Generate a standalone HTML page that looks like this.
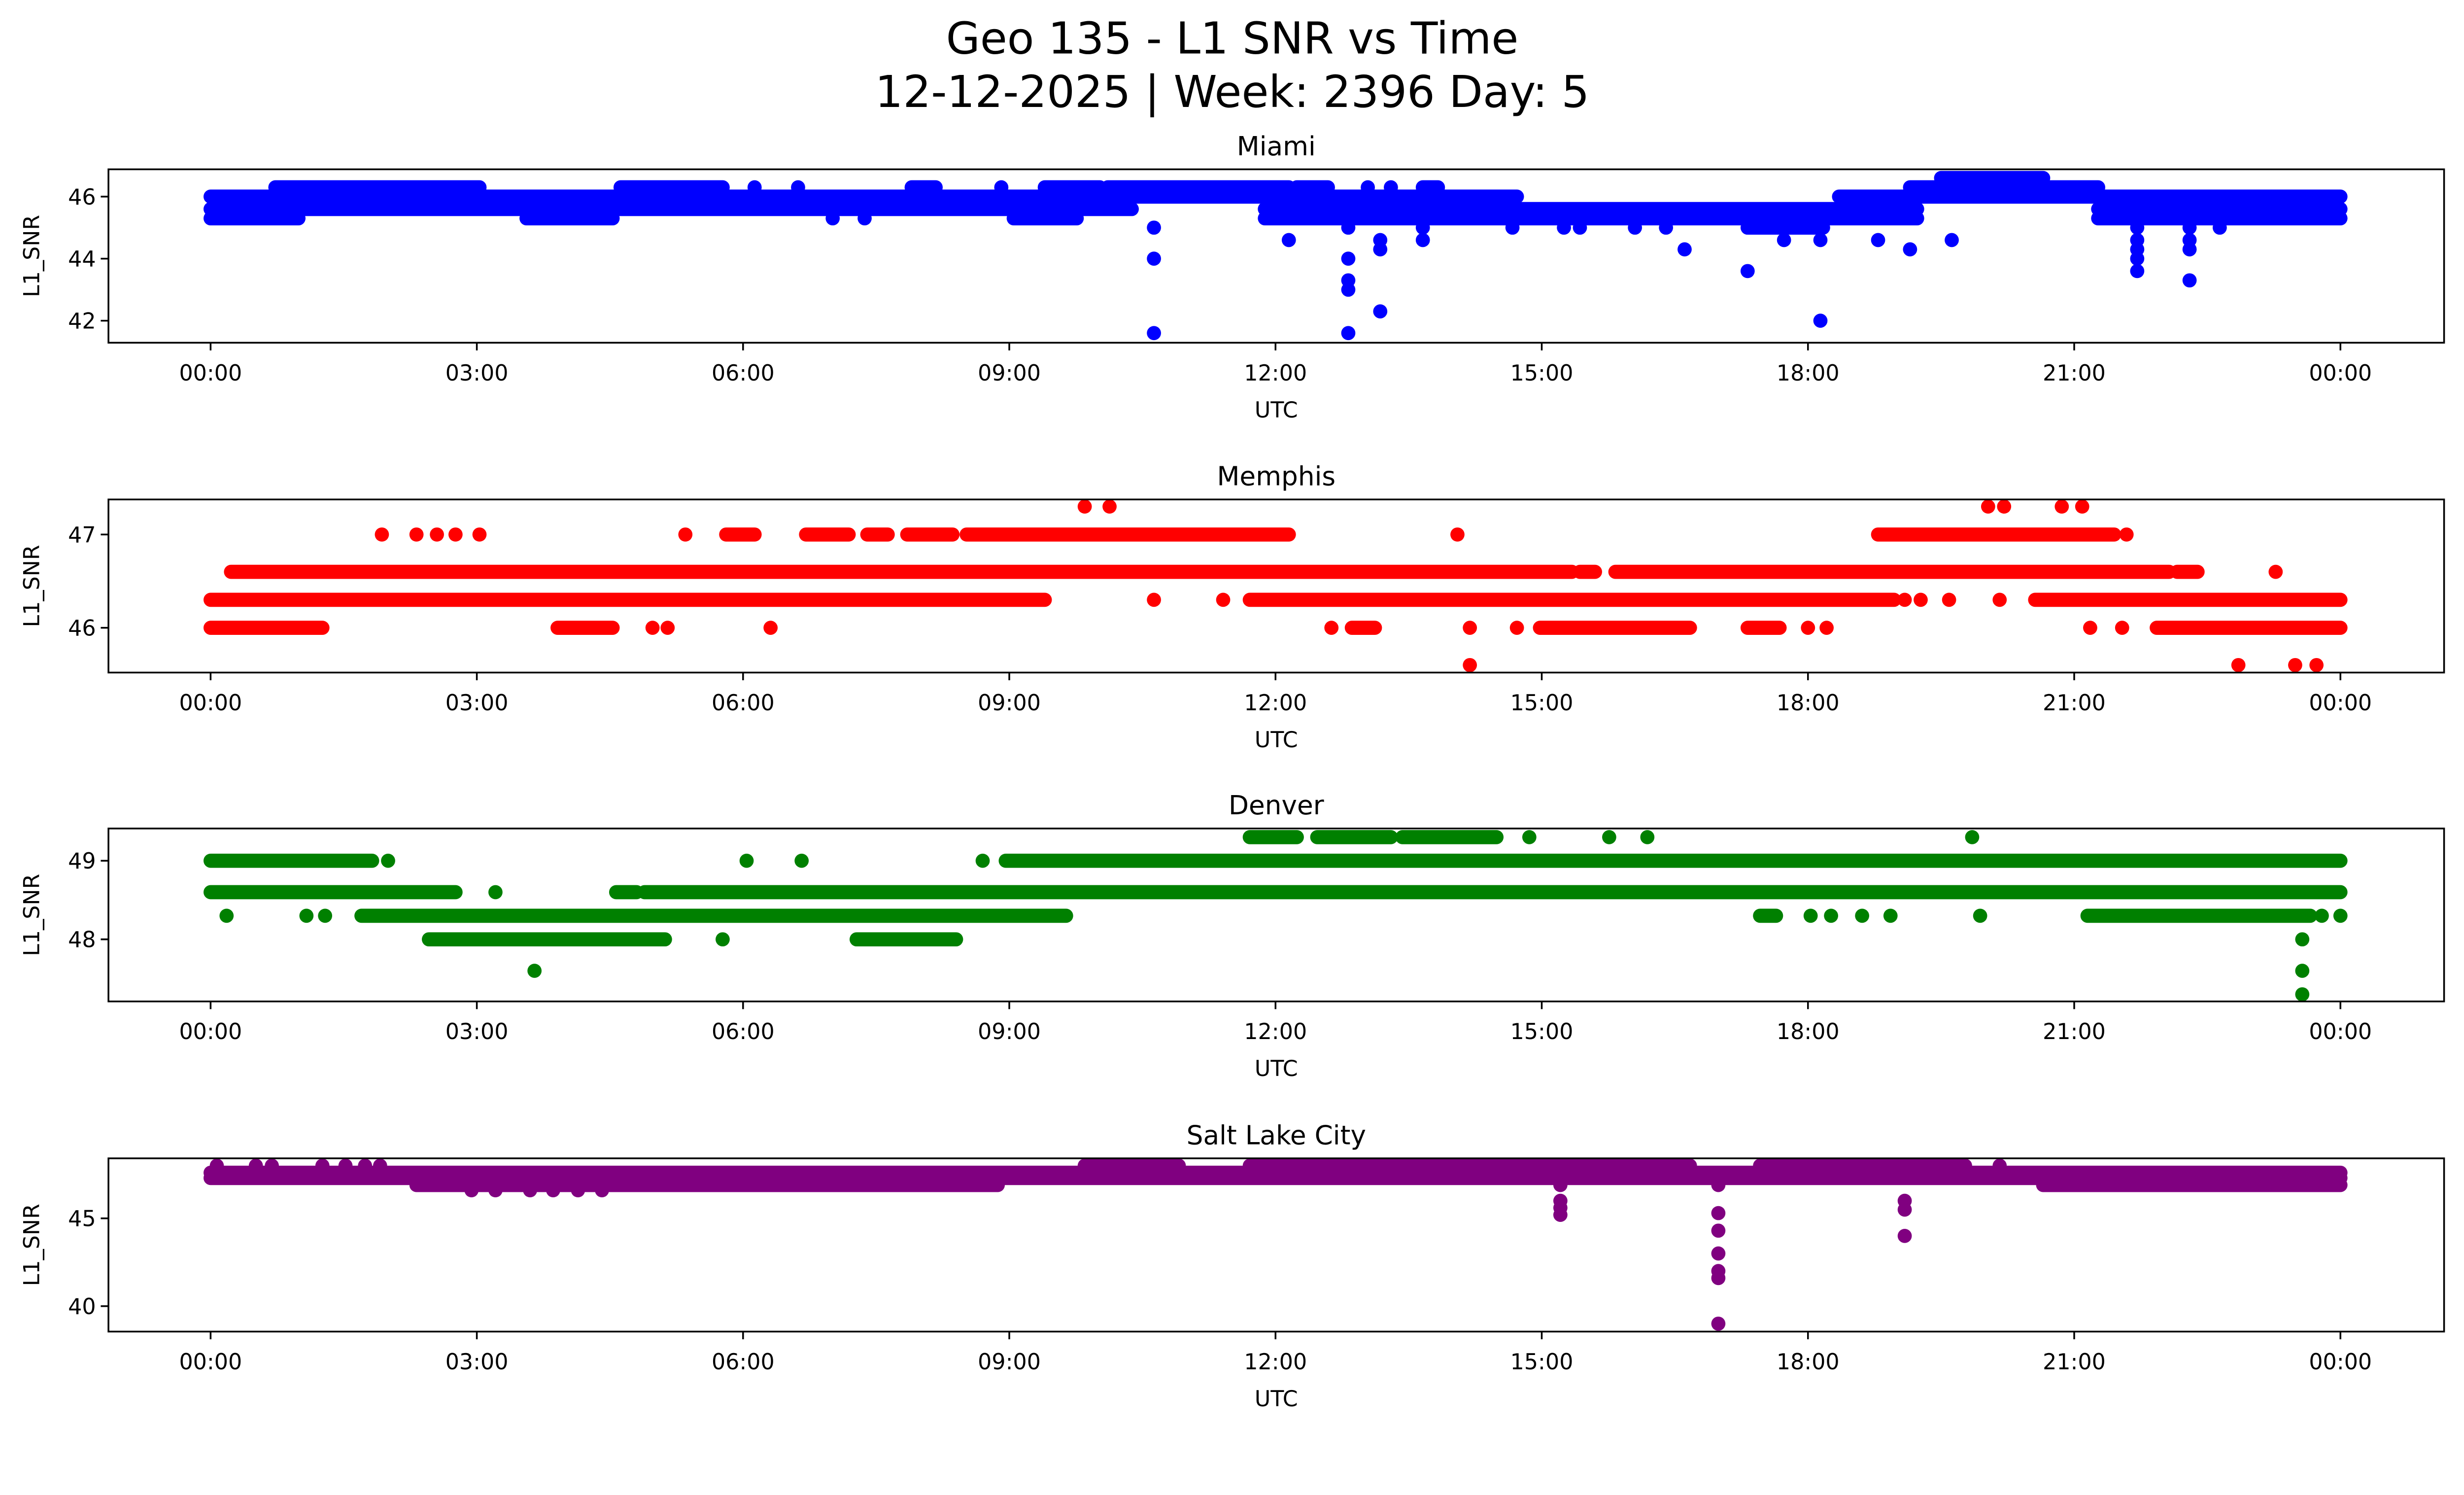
<!DOCTYPE html>
<html><head><meta charset="utf-8">
<style>
html,body{margin:0;padding:0;background:#fff;overflow:hidden;}
svg{display:block;width:100vw;height:calc(100vw * 3033 / 5225);}
text{font-family:"DejaVu Sans","Liberation Sans",sans-serif;fill:#000;}
</style></head>
<body>
<svg id="fig" viewBox="0 0 1567.5 910" preserveAspectRatio="xMinYMin meet" xmlns="http://www.w3.org/2000/svg">
<rect x="0" y="0" width="1567.5" height="910" fill="#fff"/>
<text x="784" y="34" font-size="28" text-anchor="middle">Geo 135 - L1 SNR vs Time</text>
<text x="784" y="68" font-size="28" text-anchor="middle">12-12-2025 | Week: 2396 Day: 5</text>
</svg>
<script>
// x ticks (hours) and labels
const xTickHours = [0,3,6,9,12,15,18,21,24];
const xTickLabels = ["00:00","03:00","06:00","09:00","12:00","15:00","18:00","21:00","00:00"];

// Each run: [value, startHour, endHour] (single sample when end omitted)
const miamiRuns = [
 [46.0,0,14.72],[46.0,18.35,24],
 [45.6,0,10.38],[45.6,11.88,19.23],[45.6,21.27,24],
 [45.3,0,0.99],[45.3,3.56,4.53],[45.3,7.01],[45.3,7.37],[45.3,9.05,9.76],[45.3,11.88,19.23],[45.3,21.27,24],
 [46.3,0.73,3.03],[46.3,4.62,5.77],[46.3,6.13],[46.3,6.62],[46.3,7.9,8.17],[46.3,8.91],[46.3,9.4,10.02],[46.3,10.11,12.15],[46.3,12.24,12.59],[46.3,13.04],[46.3,13.3],[46.3,13.66,13.83],[46.3,19.15,21.27],
 [46.6,19.5,20.65],
 [45.0,10.63],[45.0,12.82],[45.0,13.66],[45.0,14.67],[45.0,15.25],[45.0,15.43],[45.0,16.05],[45.0,16.40],[45.0,17.32,18.17],[45.0,21.71],[45.0,22.30],[45.0,22.64],
 [44.6,12.15],[44.6,13.18],[44.6,13.66],[44.6,17.73],[44.6,18.14],[44.6,18.79],[44.6,19.62],[44.6,21.71],[44.6,22.30],
 [44.3,13.18],[44.3,16.61],[44.3,19.15],[44.3,21.71],[44.3,22.30],
 [44.0,10.63],[44.0,12.82],[44.0,21.71],
 [43.6,17.32],[43.6,21.71],
 [43.3,12.82],[43.3,22.30],[43.0,12.82],[42.3,13.18],[42.0,18.14],[41.6,10.63],[41.6,12.82]
];
const memphisRuns = [
 [46.6,0.23,15.34],[46.6,15.43,15.60],[46.6,15.83,22.07],[46.6,22.16,22.39],[46.6,23.27],
 [46.3,0,9.4],[46.3,10.63],[46.3,11.41],[46.3,11.71,18.97],[46.3,19.09],[46.3,19.27],[46.3,19.59],[46.3,20.16],[46.3,20.56,24],
 [46.0,0,1.26],[46.0,3.91,4.53],[46.0,4.98],[46.0,5.15],[46.0,6.31],[46.0,12.63],[46.0,12.86,13.12],[46.0,14.19],[46.0,14.72],[46.0,14.98,16.67],[46.0,17.32,17.68],[46.0,18.0],[46.0,18.21],[46.0,21.18],[46.0,21.54],[46.0,21.93,24],
 [47.0,1.93],[47.0,2.32],[47.0,2.55],[47.0,2.76],[47.0,3.03],[47.0,5.35],[47.0,5.81,6.13],[47.0,6.71,7.19],[47.0,7.40,7.63],[47.0,7.85,8.36],[47.0,8.52,12.15],[47.0,14.05],[47.0,18.79,21.45],[47.0,21.59],
 [47.3,9.85],[47.3,10.13],[47.3,20.03],[47.3,20.21],[47.3,20.86],[47.3,21.09],
 [45.6,14.19],[45.6,22.85],[45.6,23.49],[45.6,23.73]
];
const denverRuns = [
 [49.3,11.71,12.24],[49.3,12.47,13.30],[49.3,13.43,14.49],[49.3,14.86],[49.3,15.76],[49.3,16.19],[49.3,19.85],
 [49.0,0,1.82],[49.0,2.0],[49.0,6.04],[49.0,6.66],[49.0,8.70],[49.0,8.96,24],
 [48.6,0,2.76],[48.6,3.21],[48.6,4.57,4.80],[48.6,4.89,24],
 [48.3,0.18],[48.3,1.08],[48.3,1.29],[48.3,1.70,9.64],[48.3,17.46,17.64],[48.3,18.03],[48.3,18.26],[48.3,18.61],[48.3,18.93],[48.3,19.94],[48.3,21.15,23.66],[48.3,23.79],[48.3,24],
 [48.0,2.46,5.12],[48.0,5.77],[48.0,7.28,8.40],[48.0,23.57],
 [47.6,3.65],[47.6,23.57],[47.3,23.57]
];
const slcRuns = [
 [47.6,0,24],[47.3,0,24],
 [48.0,0.07],[48.0,0.51],[48.0,0.69],[48.0,1.26],[48.0,1.52],[48.0,1.74],[48.0,1.91],[48.0,9.85,10.91],[48.0,11.71,16.67],[48.0,17.46,19.77],[48.0,20.16],
 [46.9,2.32,8.87],[46.9,20.65,24],[46.9,15.21],[46.9,16.99],
 [46.6,2.94],[46.6,3.21],[46.6,3.60],[46.6,3.86],[46.6,4.14],[46.6,4.41],
 [46.0,15.21],[45.6,15.21],[45.2,15.21],
 [46.0,19.09],[45.5,19.09],[44.0,19.09],
 [45.3,16.99],[44.3,16.99],[43.0,16.99],[42.0,16.99],[41.6,16.99],[39.0,16.99]
];
const miamiTicks = [42,44,46];
const memphisTicks = [46,47];
const denverTicks = [48,49];
const slcTicks = [40,45];

const NS = "http://www.w3.org/2000/svg";
const svg = document.getElementById('fig');
const X0 = 69, X1 = 1555, XMIN = -1.151, XMAX = 25.168;
function xs(h){ return X0 + (h - XMIN) / (XMAX - XMIN) * (X1 - X0); }
function mk(tag, attrs, parent){
  const e = document.createElementNS(NS, tag);
  for (const k in attrs) e.setAttribute(k, attrs[k]);
  (parent || svg).appendChild(e);
  return e;
}
const panels = [
 {slug:'miami', title:'Miami', runs:miamiRuns, ticks:miamiTicks, color:'#0000ff', top:107.7, bot:218, ymin:41.29, ymax:46.88},
 {slug:'memphis', title:'Memphis', runs:memphisRuns, ticks:memphisTicks, color:'#ff0000', top:317.7, bot:427.8, ymin:45.52, ymax:47.376},
 {slug:'denver', title:'Denver', runs:denverRuns, ticks:denverTicks, color:'#008000', top:527, bot:637, ymin:47.21, ymax:49.41},
 {slug:'salt-lake-city', title:'Salt Lake City', runs:slcRuns, ticks:slcTicks, color:'#800080', top:736.8, bot:847, ymin:38.55, ymax:48.42}
];
panels.forEach(p => {
  const g = mk('g', {});
  
  
  const ys = v => p.bot - (v - p.ymin) / (p.ymax - p.ymin) * (p.bot - p.top);
  const clipId = 'clip-' + p.slug;
  const cp = mk('clipPath', {id: clipId}, g);
  mk('rect', {x: X0, y: p.top, width: X1 - X0, height: p.bot - p.top}, cp);
  const sg = mk('g', {'clip-path': 'url(#' + clipId + ')'}, g);
  
  
  p.runs.forEach(r => {
    const v = r[0], h1 = r[1], h2 = (r.length > 2 ? r[2] : r[1]);
    const ln = mk('line', {x1: xs(h1), x2: xs(h2) + 0.01, y1: ys(v), y2: ys(v),
      stroke: p.color, 'stroke-width': 9, 'stroke-linecap': 'round'}, sg);
    
    
  });
  const fr = mk('rect', {x: X0, y: p.top, width: X1 - X0, height: p.bot - p.top, fill: 'none', stroke: '#000', 'stroke-width': 1.1}, g);
  
  
  xTickHours.forEach((h, i) => {
    const x = xs(h);
    mk('line', {x1: x, x2: x, y1: p.bot, y2: p.bot + 4.9, stroke: '#000', 'stroke-width': 1.1}, g);
    const t = mk('text', {x: x, y: p.bot + 24, 'font-size': 13.9, 'text-anchor': 'middle'}, g);
    
    
    t.textContent = xTickLabels[i];
  });
  p.ticks.forEach(v => {
    const y = ys(v);
    mk('line', {x1: X0 - 4.9, x2: X0, y1: y, y2: y, stroke: '#000', 'stroke-width': 1.1}, g);
    const t = mk('text', {x: X0 - 8, y: y + 5, 'font-size': 13.9, 'text-anchor': 'end'}, g);
    
    
    t.textContent = String(v);
  });
  const xl = mk('text', {x: (X0 + X1) / 2, y: p.bot + 47.5, 'font-size': 13.9, 'text-anchor': 'middle'}, g);
  
  
  xl.textContent = 'UTC';
  const cy = (p.top + p.bot) / 2;
  const yl = mk('text', {x: 0, y: 0, 'font-size': 13.9, 'text-anchor': 'middle', transform: 'translate(25,' + cy + ') rotate(-90)'}, g);
  
  
  yl.textContent = 'L1_SNR';
  const tt = mk('text', {x: (X0 + X1) / 2, y: p.top - 9, 'font-size': 16.7, 'text-anchor': 'middle'}, g);
  
  
  tt.textContent = p.title;
});
</script>
</body></html>
